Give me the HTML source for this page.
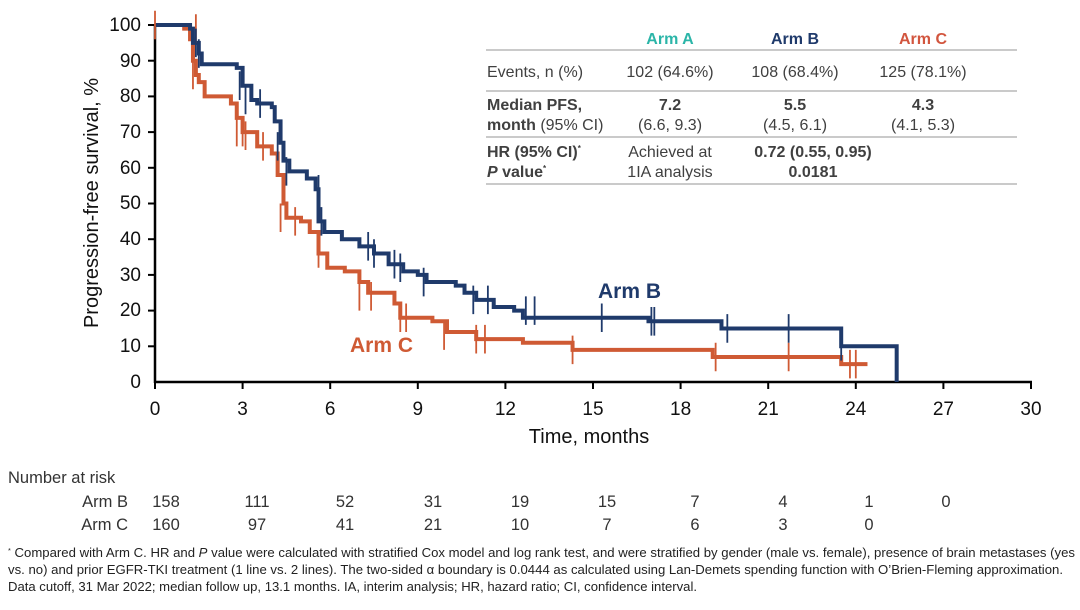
<!DOCTYPE html>
<html><head><meta charset="utf-8"><style>
body{margin:0;background:#fff;}
svg text{font-family:"Liberation Sans",Arial,sans-serif;}
</style></head><body>
<svg width="1080" height="605" viewBox="0 0 1080 605" xmlns="http://www.w3.org/2000/svg">
<rect width="1080" height="605" fill="#fff"/>
<g stroke="#000" stroke-width="2.5">
<line x1="155" y1="24" x2="155" y2="383"/>
<line x1="154" y1="382" x2="1032" y2="382"/>
</g>
<g stroke="#000" stroke-width="2">
<line x1="148" y1="25" x2="155" y2="25"/><line x1="148" y1="60.7" x2="155" y2="60.7"/><line x1="148" y1="96.4" x2="155" y2="96.4"/><line x1="148" y1="132.1" x2="155" y2="132.1"/><line x1="148" y1="167.8" x2="155" y2="167.8"/><line x1="148" y1="203.5" x2="155" y2="203.5"/><line x1="148" y1="239.2" x2="155" y2="239.2"/><line x1="148" y1="274.9" x2="155" y2="274.9"/><line x1="148" y1="310.6" x2="155" y2="310.6"/><line x1="148" y1="346.3" x2="155" y2="346.3"/>
<line x1="155" y1="382" x2="155" y2="389"/><line x1="242.6" y1="382" x2="242.6" y2="389"/><line x1="330.2" y1="382" x2="330.2" y2="389"/><line x1="417.8" y1="382" x2="417.8" y2="389"/><line x1="505.4" y1="382" x2="505.4" y2="389"/><line x1="593" y1="382" x2="593" y2="389"/><line x1="680.6" y1="382" x2="680.6" y2="389"/><line x1="768.2" y1="382" x2="768.2" y2="389"/><line x1="855.8" y1="382" x2="855.8" y2="389"/><line x1="943.4" y1="382" x2="943.4" y2="389"/><line x1="1031" y1="382" x2="1031" y2="389"/>
</g>
<g font-size="19" fill="#111" text-anchor="end">
<text x="141" y="31">100</text><text x="141" y="67">90</text><text x="141" y="102">80</text><text x="141" y="138">70</text><text x="141" y="174">60</text><text x="141" y="209">50</text><text x="141" y="245">40</text><text x="141" y="281">30</text><text x="141" y="316">20</text><text x="141" y="352">10</text><text x="141" y="388">0</text>
</g>
<g font-size="19" fill="#111" text-anchor="middle">
<text x="155" y="415">0</text><text x="242.6" y="415">3</text><text x="330.2" y="415">6</text><text x="417.8" y="415">9</text><text x="505.4" y="415">12</text><text x="593" y="415">15</text><text x="680.6" y="415">18</text><text x="768.2" y="415">21</text><text x="855.8" y="415">24</text><text x="943.4" y="415">27</text><text x="1031" y="415">30</text>
<text x="589" y="443" font-size="20">Time, months</text>
</g>
<text transform="translate(98,203) rotate(-90)" font-size="20" fill="#111" text-anchor="middle">Progression-free survival, %</text>

<g transform="translate(155,382) scale(29.2,-3.57)" fill="none" stroke-linejoin="miter">
<path vector-effect="non-scaling-stroke" stroke="#cf5a34" stroke-width="4" d="M0,100 H1 V99 H1.2 V96 H1.3 V90 H1.4 V86 H1.5 V84 H1.7 V80 H2.6 V78 H2.8 V74 H3 V70 H3.5 V66 H4 V64 H4.2 V58 H4.4 V50 H4.5 V46 H5 V45 H5.3 V42 H5.6 V36 H5.9 V32 H6.5 V31 H7 V28 H7.3 V25 H8.2 V22 H8.4 V18 H9.5 V17 H10 V14 H11 V12 H12.6 V11 H14.3 V9 H19.1 V7 H23.5 V5 H24.4"/>
<path vector-effect="non-scaling-stroke" stroke="#1f3a6b" stroke-width="4" d="M0,100 H1.2 V99 H1.3 V95 H1.5 V92 H1.6 V89 H2.8 V88 H3 V83 H3.3 V79 H3.5 V78 H4 V77 H4.1 V73 H4.3 V67 H4.4 V62 H4.6 V59 H5.2 V57 H5.5 V54 H5.6 V45 H5.8 V42 H6.4 V40 H7 V38 H7.5 V36 H8 V33 H8.5 V31 H9 V30 H9.3 V28 H10.3 V27 H10.6 V25 H11 V23 H11.6 V21 H12.3 V20 H12.6 V18 H16.9 V17 H19.4 V15 H23.5 V10 H25.4 V0"/>
<path vector-effect="non-scaling-stroke" stroke="#cf5a34" stroke-width="1.8" d="M0,96 V104 M1.3,82 V90 M1.4,95 V103 M2.8,66 V74 M3,66 V74 M3.1,65 V73 M3.7,62 V70 M4.3,42 V50 M4.8,41 V49 M5.6,32 V40 M7,20 V28 M7.4,20 V28 M8.4,14 V22 M8.6,14 V22 M9.9,9 V17 M11,8 V16 M11.3,8 V16 M14.3,5 V13 M19.2,3 V11 M21.7,3 V11 M23.8,1 V9 M24,1 V9"/>
<path vector-effect="non-scaling-stroke" stroke="#1f3a6b" stroke-width="1.8" d="M1.4,91 V99 M1.5,88 V96 M2.9,79 V87 M3.1,75 V83 M3.6,74 V82 M4.2,62 V70 M4.5,55 V63 M5.6,50 V58 M5.7,41 V49 M7.3,34 V42 M7.5,32 V40 M8.2,29 V37 M8.4,28 V36 M9.2,24 V32 M10.9,19 V27 M11.4,19 V27 M12.7,16 V24 M13,16 V24 M15.3,14 V22 M17,13 V21 M17.1,13 V21 M19.6,11 V19 M21.7,11 V19 M23.5,6 V14"/>
</g>
<text x="598" y="298" font-size="21" font-weight="bold" fill="#1f3a6b">Arm B</text>
<text x="350" y="352" font-size="21" font-weight="bold" fill="#cf5a34">Arm C</text>

<g stroke="#b8b8b8" stroke-width="1.6">
<line x1="486" y1="50" x2="1017" y2="50"/><line x1="486" y1="91" x2="1017" y2="91"/><line x1="486" y1="137" x2="1017" y2="137"/><line x1="486" y1="184" x2="1017" y2="184"/>
</g>
<g font-size="16" fill="#404040">
<g text-anchor="middle" font-weight="bold">
<text x="670" y="44" fill="#2bb5a8">Arm A</text><text x="795" y="44" fill="#1f3a6b">Arm B</text><text x="923" y="44" fill="#d2553e">Arm C</text>
</g>
<text x="487" y="77">Events, n (%)</text>
<g text-anchor="middle"><text x="670" y="77">102 (64.6%)</text><text x="795" y="77">108 (68.4%)</text><text x="923" y="77">125 (78.1%)</text></g>
<text x="487" y="110" font-weight="bold">Median PFS,</text>
<text x="487" y="130"><tspan font-weight="bold">month</tspan> (95% CI)</text>
<g text-anchor="middle"><text x="670" y="110" font-weight="bold">7.2</text><text x="795" y="110" font-weight="bold">5.5</text><text x="923" y="110" font-weight="bold">4.3</text>
<text x="670" y="130">(6.6, 9.3)</text><text x="795" y="130">(4.5, 6.1)</text><text x="923" y="130">(4.1, 5.3)</text></g>
<text x="487" y="157" font-weight="bold">HR (95% CI)<tspan font-size="8" dy="-6">*</tspan></text>
<text x="487" y="177" font-weight="bold"><tspan font-style="italic">P</tspan> value<tspan font-size="8" dy="-6">*</tspan></text>
<g text-anchor="middle"><text x="670" y="157">Achieved at</text><text x="670" y="177">1IA analysis</text>
<text x="813" y="157" font-weight="bold">0.72 (0.55, 0.95)</text><text x="813" y="177" font-weight="bold">0.0181</text></g>
</g>

<g font-size="16.5" fill="#333">
<text x="8" y="483">Number at risk</text>
<text x="128" y="507" text-anchor="end">Arm B</text>
<text x="128" y="530" text-anchor="end">Arm C</text>
<g text-anchor="middle">
<text x="166" y="507">158</text><text x="257" y="507">111</text><text x="345" y="507">52</text><text x="433" y="507">31</text><text x="520" y="507">19</text><text x="607" y="507">15</text><text x="695" y="507">7</text><text x="783" y="507">4</text><text x="869" y="507">1</text><text x="946" y="507">0</text>
<text x="166" y="530">160</text><text x="257" y="530">97</text><text x="345" y="530">41</text><text x="433" y="530">21</text><text x="520" y="530">10</text><text x="607" y="530">7</text><text x="695" y="530">6</text><text x="783" y="530">3</text><text x="869" y="530">0</text>
</g>
</g>
<g font-size="12.5" fill="#222">
<text x="8" y="557" textLength="1067" lengthAdjust="spacingAndGlyphs"><tspan font-size="7" dy="-4">*</tspan><tspan dy="4"> Compared with Arm C. HR and </tspan><tspan font-style="italic">P</tspan> value were calculated with stratified Cox model and log rank test, and were stratified by gender (male vs. female), presence of brain metastases (yes</text>
<text x="8" y="574" textLength="1055" lengthAdjust="spacingAndGlyphs">vs. no) and prior EGFR-TKI treatment (1 line vs. 2 lines). The two-sided α boundary is 0.0444 as calculated using Lan-Demets spending function with O’Brien-Fleming approximation.</text>
<text x="8" y="591" textLength="689" lengthAdjust="spacingAndGlyphs">Data cutoff, 31 Mar 2022; median follow up, 13.1 months. IA, interim analysis; HR, hazard ratio; CI, confidence interval.</text>
</g>
</svg>
</body></html>
